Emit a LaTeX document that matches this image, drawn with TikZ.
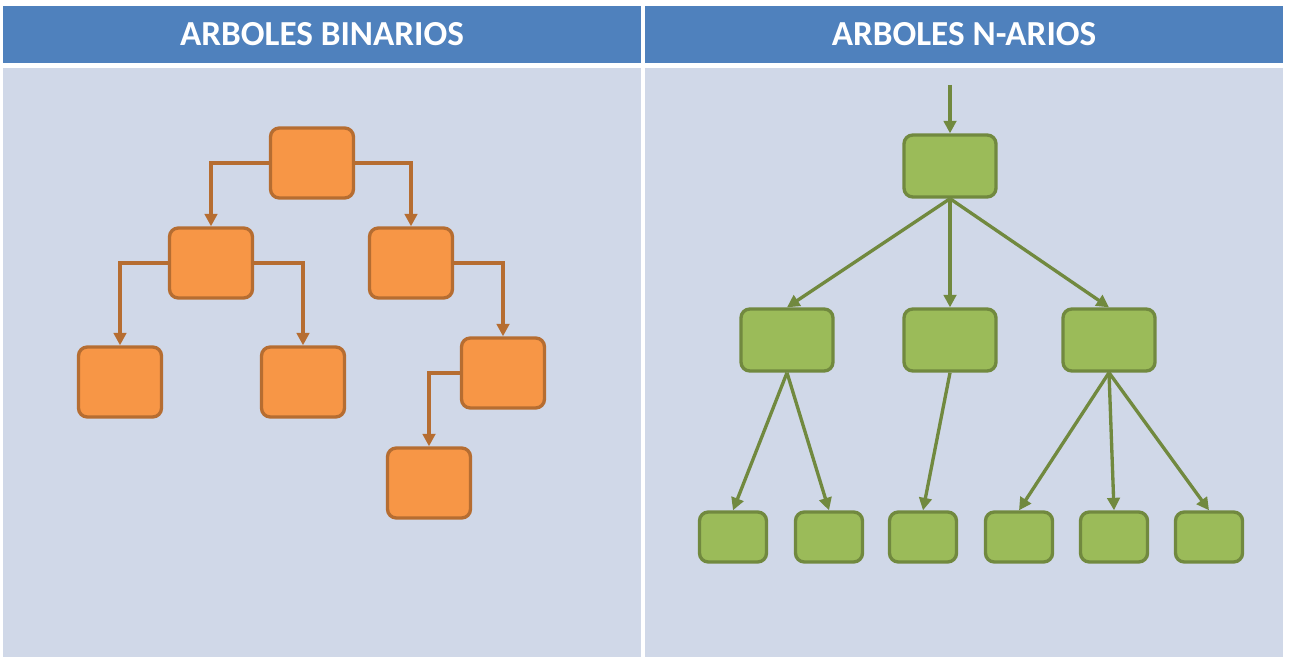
\documentclass[tikz,border=0pt]{standalone}
\usepackage{fontspec}
\setmainfont{Carlito}
\usetikzlibrary{arrows.meta,positioning}
\definecolor{hdrblue}{RGB}{79,129,189}
\definecolor{cellblue}{RGB}{208,216,232}
\definecolor{nodeorange}{RGB}{247,150,70}
\definecolor{edgeorange}{RGB}{182,109,49}
\definecolor{nodegreen}{RGB}{155,187,89}
\definecolor{edgegreen}{RGB}{113,137,63}

\begin{document}
\begin{tikzpicture}[x=0.02cm, y=-0.02cm,
    header/.style={rectangle, fill=hdrblue, draw=none, text=white,
        minimum width=12.76cm, minimum height=1.14cm, inner sep=0pt,
        font=\fontsize{20}{24}\selectfont\bfseries},
    cell/.style={rectangle, fill=cellblue, draw=none,
        minimum width=12.76cm, minimum height=11.78cm, inner sep=0pt},
    bnode/.style={rectangle, rounded corners=5pt, draw=edgeorange, fill=nodeorange,
        line width=1.9pt, minimum width=1.66cm, minimum height=1.4cm, inner sep=0pt},
    nnode/.style={rectangle, rounded corners=5pt, draw=edgegreen, fill=nodegreen,
        line width=1.9pt, minimum width=1.84cm, minimum height=1.24cm, inner sep=0pt},
    leaf/.style={nnode, minimum width=1.34cm, minimum height=1.0cm},
    barr/.style={-{Triangle[length=2.5mm, width=2.5mm]}, line width=1.9pt, edgeorange},
    narr/.style={-{Triangle[length=2.5mm, width=2.5mm]}, line width=1.9pt, edgegreen}
]
    \useasboundingbox[fill=white] (0,0) rectangle (1290,662);

    % table
    \node[header] (hbin) at (322,34.5) {ARBOLES BINARIOS};
    \node[header] (hnar) at (964,34.5) {ARBOLES N-ARIOS};
    \node[cell] (cbin) at (322,362.5) {};
    \node[cell] (cnar) at (964,362.5) {};

    % binary tree
    \node[bnode] (broot) at (312,163) {};
    \node[bnode] (bl) at (211,263) {};
    \node[bnode] (br) at (411,263) {};
    \node[bnode] (bll) at (120,382) {};
    \node[bnode] (blr) at (303,382) {};
    \node[bnode] (brr) at (503,373) {};
    \node[bnode] (brrl) at (429,483) {};

    \draw[barr] (broot.west) -| (bl.north);
    \draw[barr] (broot.east) -| (br.north);
    \draw[barr] (bl.west) -| (bll.north);
    \draw[barr] (bl.east) -| (blr.north);
    \draw[barr] (br.east) -| (brr.north);
    \draw[barr] (brr.west) -| (brrl.north);

    % n-ary tree
    \coordinate (nin) at (950,85);
    \node[nnode] (nroot) at (950,166) {};
    \node[nnode] (na) at (787,340) {};
    \node[nnode] (nb) at (950,340) {};
    \node[nnode] (nc) at (1109,340) {};
    \node[leaf] (na1) at (733,537) {};
    \node[leaf] (na2) at (829,537) {};
    \node[leaf] (nb1) at (923,537) {};
    \node[leaf] (nc1) at (1019,537) {};
    \node[leaf] (nc2) at (1114,537) {};
    \node[leaf] (nc3) at (1209,537) {};

    \draw[narr] (nin) -- (nroot.north);
    \draw[narr] (nroot.south) -- (na.north);
    \draw[narr] (nroot.south) -- (nb.north);
    \draw[narr] (nroot.south) -- (nc.north);
    \draw[narr] (na.south) -- (na1.north);
    \draw[narr] (na.south) -- (na2.north);
    \draw[narr] (nb.south) -- (nb1.north);
    \draw[narr] (nc.south) -- (nc1.north);
    \draw[narr] (nc.south) -- (nc2.north);
    \draw[narr] (nc.south) -- (nc3.north);
\end{tikzpicture}
\end{document}
